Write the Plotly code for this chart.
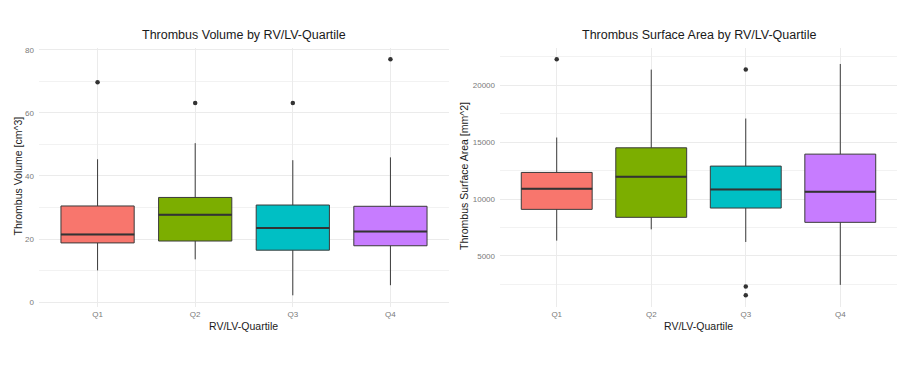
import plotly.graph_objects as go

categories = ["Q1", "Q2", "Q3", "Q4"]
colors = ["#F8766D", "#7CAE00", "#00BFC4", "#C77CFF"]

# Thrombus volume [cm^3]
vol_lower = [10.1, 13.6, 2.2, 5.4]
vol_q1 = [18.8, 19.4, 16.5, 17.9]
vol_median = [21.5, 27.7, 23.5, 22.4]
vol_q3 = [30.5, 33.2, 30.8, 30.4]
vol_upper = [45.3, 50.4, 45.0, 45.9]
vol_out_cat = ["Q1", "Q2", "Q3", "Q4"]
vol_out_val = [69.7, 63.1, 63.1, 77.0]

# Thrombus surface area [mm^2]
area_lower = [6345, 7339, 6228, 2456]
area_q1 = [9094, 8392, 9210, 7953]
area_median = [10906, 11959, 10848, 10643]
area_q3 = [12339, 14503, 12895, 13947]
area_upper = [15409, 21374, 17076, 21871]
area_out_cat = ["Q1", "Q3", "Q3", "Q3"]
area_out_val = [22281, 21374, 2310, 1550]

W, H = 908, 368
fig = go.Figure()

def add_panel(xa, ya, lower, q1, med, q3, upper, out_cat, out_val):
    for i, c in enumerate(categories):
        fig.add_trace(go.Box(
            x=[c], q1=[q1[i]], median=[med[i]], q3=[q3[i]],
            lowerfence=[lower[i]], upperfence=[upper[i]],
            fillcolor=colors[i], line=dict(color="#3a3a3a", width=1),
            width=0.75, whiskerwidth=0, boxpoints=False,
            xaxis=xa, yaxis=ya, showlegend=False, hoverinfo="skip"))
        # thick median line
        fig.add_trace(go.Box(
            x=[c], q1=[med[i]], median=[med[i]], q3=[med[i]],
            lowerfence=[med[i]], upperfence=[med[i]],
            fillcolor="rgba(0,0,0,0)", line=dict(color="#333333", width=2),
            width=0.75, whiskerwidth=0, boxpoints=False,
            xaxis=xa, yaxis=ya, showlegend=False, hoverinfo="skip"))
    fig.add_trace(go.Scatter(
        x=out_cat, y=out_val, mode="markers",
        marker=dict(color="#333333", size=4.5),
        xaxis=xa, yaxis=ya, showlegend=False, hoverinfo="skip"))

add_panel("x", "y", vol_lower, vol_q1, vol_median, vol_q3, vol_upper, vol_out_cat, vol_out_val)
add_panel("x2", "y2", area_lower, area_q1, area_median, area_q3, area_upper, area_out_cat, area_out_val)

ydom = [(H - 307) / H, (H - 47.5) / H]
grid = "#EBEBEB"
mgrid = "#F2F2F2"
tickfont = dict(family="Liberation Sans, Arial, sans-serif", size=8, color="#7a7a7a")

common_x = dict(type="category", categoryorder="array", categoryarray=categories,
                range=[-0.6, 3.6], showgrid=True, gridcolor=grid, gridwidth=1,
                zeroline=False, showline=False, ticks="", tickfont=tickfont,
                automargin=False, fixedrange=True, ticklabelstandoff=1)

fig.update_layout(
    width=W, height=H,
    margin=dict(l=0, r=0, t=0, b=0),
    paper_bgcolor="white", plot_bgcolor="white",
    boxmode="overlay",
    xaxis=dict(domain=[39 / W, 449 / W], anchor="y", **common_x),
    xaxis2=dict(domain=[500 / W, 897 / W], anchor="y2", **common_x),
    yaxis=dict(domain=ydom, anchor="x", range=[-1.5, 80.7],
               tickvals=[0, 20, 40, 60, 80], showgrid=True, gridcolor=grid, gridwidth=1,
               minor=dict(tickvals=[10, 30, 50, 70], showgrid=True, gridcolor=mgrid, gridwidth=1),
               zeroline=False, showline=False, ticks="", tickfont=tickfont,
               automargin=False, ticklabelstandoff=4),
    yaxis2=dict(domain=ydom, anchor="x2", range=[513, 23318],
                tickvals=[5000, 10000, 15000, 20000], tickformat="d",
                showgrid=True, gridcolor=grid, gridwidth=1,
                minor=dict(tickvals=[2500, 7500, 12500, 17500, 22500], showgrid=True, gridcolor=mgrid, gridwidth=1),
                zeroline=False, showline=False, ticks="", tickfont=tickfont,
                automargin=False, ticklabelstandoff=4),
)

tfont = dict(family="Liberation Sans, Arial, sans-serif", size=12.5, color="#1a1a1a")
afont = dict(family="Liberation Sans, Arial, sans-serif", size=10.5, color="#1a1a1a")

def ann(text, x, y, font, angle=0):
    fig.add_annotation(text=text, x=x / W, y=1 - y / H, xref="paper", yref="paper",
                       xanchor="center", yanchor="middle", showarrow=False,
                       font=font, textangle=angle)

ann("Thrombus Volume by RV/LV-Quartile", 244, 35.5, tfont)
ann("Thrombus Surface Area by RV/LV-Quartile", 698.5, 35.5, tfont)
ann("RV/LV-Quartile", 244, 325.5, afont)
ann("RV/LV-Quartile", 698.5, 325.5, afont)
ann("Thrombus Volume [cm^3]", 17.5, 176, afont, -90)
ann("Thrombus Surface Area [mm^2]", 464, 176, afont, -90)

fig.write_html("out.html", config={"displayModeBar": False},
               post_script="document.body.style.margin='0';")
